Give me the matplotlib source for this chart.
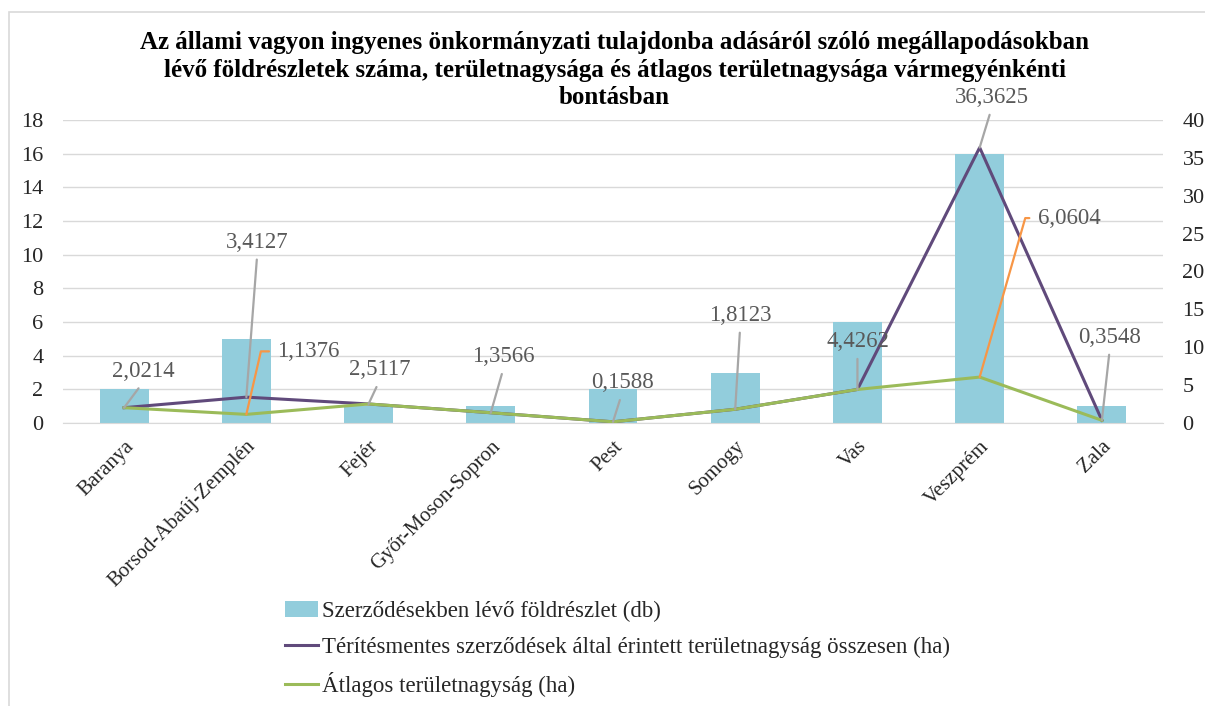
import numpy as np
import matplotlib.pyplot as plt
from matplotlib.patches import Rectangle

plt.rcParams['font.family'] = ['Liberation Serif', 'DejaVu Serif']

# Adatok
megyek = ["Baranya", "Borsod-Abaúj-Zemplén", "Fejér", "Győr-Moson-Sopron", "Pest",
          "Somogy", "Vas", "Veszprém", "Zala"]
foldreszlet_db = [2, 5, 1, 1, 2, 3, 6, 16, 1]
terulet_osszesen = [2.0214, 3.4127, 2.5117, 1.3566, 0.1588, 1.8123, 4.4262, 36.3625, 0.3548]
atlag_terulet = [2.0214, 1.1376, 2.5117, 1.3566, 0.1588, 1.8123, 4.4262, 6.0604, 0.3548]

cim_sorok = ["Az állami vagyon ingyenes önkormányzati tulajdonba adásáról szóló megállapodásokban",
             "lévő földrészletek száma, területnagysága és átlagos területnagysága vármegyénkénti",
             "bontásban"]

# címke-eltolások (pixel)
szurke_offset = [(19, 36), (11, 155), (11, 34), (13, 56), (9, 39), (5, 94), (0, 48), (12, 50), (8, 83)]
narancs_cimkek = {1: (31, 63, 77), 7: (58, 159, 74)}

fig = plt.figure(figsize=(12.05, 7.06), dpi=100)
fig.patches.append(Rectangle((9 / 1205, -0.1), 1.2, 0.1 + (706 - 12) / 706, transform=fig.transFigure,
                             fill=False, edgecolor="#D9D9D9", linewidth=1.2))

ax = fig.add_axes([63 / 1205, 1 - 423 / 706, 1100 / 1205, 303 / 706])
ax2 = ax.twinx()

x = np.arange(len(megyek))
ax.bar(x, foldreszlet_db, width=0.4, color="#92CDDC", zorder=2,
       label="Szerződésekben lévő földrészlet (db)")
ax2.plot(x, terulet_osszesen, color="#604A7B", lw=2.2, zorder=3,
         label="Térítésmentes szerződések által érintett területnagyság összesen (ha)")
ax2.plot(x, atlag_terulet, color="#9BBB59", lw=2.2, zorder=4,
         label="Átlagos területnagyság (ha)")

ax.set_xlim(-0.5, len(megyek) - 0.5)
ax.set_ylim(0, 18)
ax.set_yticks(np.arange(0, 19, 2))
ax2.set_ylim(0, 40)
ax2.set_yticks(np.arange(0, 41, 5))
ax.grid(axis="y", color="#D9D9D9", lw=1, zorder=0)
ax.set_axisbelow(True)

for a in (ax, ax2):
    for s in a.spines.values():
        s.set_visible(False)
    a.tick_params(length=0, labelsize=16, labelcolor="#262626")
ax.spines["bottom"].set_visible(True)
ax.spines["bottom"].set_color("#D9D9D9")
ax.tick_params(axis="y", pad=14)
ax2.tick_params(axis="y", pad=14)

ax.set_xticks(x)
ax.set_xticklabels(megyek, rotation=45, ha="right", rotation_mode="anchor")
ax.tick_params(axis="x", pad=10, labelsize=15)

# adatcímkék
for i, val in enumerate(terulet_osszesen):
    dx, dy = szurke_offset[i]
    ax2.annotate(f"{val:.4f}".replace(".", ","), xy=(i, val), xytext=(dx, dy),
                 textcoords="offset pixels", ha="center", va="center",
                 fontsize=16.5, color="#595959", zorder=6,
                 arrowprops=dict(arrowstyle="-", color="#A6A6A6", lw=1.6,
                                 relpos=(0.5, 0), shrinkA=3, shrinkB=0))
for i, (dx, dy, ang) in narancs_cimkek.items():
    val = atlag_terulet[i]
    ax2.annotate(f"{val:.4f}".replace(".", ","), xy=(i, val), xytext=(dx, dy),
                 textcoords="offset pixels", ha="left", va="center",
                 fontsize=16.5, color="#595959", zorder=6,
                 arrowprops=dict(arrowstyle="-", color="#F79646", lw=1.6,
                                 connectionstyle=f"angle,angleA=0,angleB={ang},rad=0",
                                 relpos=(0, 0.5), shrinkA=4, shrinkB=0))

# cím soronként
for k, sor in enumerate(cim_sorok):
    fig.text(0.51, 1 - (42 + 28 * k) / 706, sor, ha="center", va="center",
             fontsize=18, fontweight="bold")

h1, l1 = ax.get_legend_handles_labels()
h2, l2 = ax2.get_legend_handles_labels()
fig.legend(h1 + h2, l1 + l2, loc="upper left", bbox_to_anchor=(276 / 1205, 1 - 592 / 706),
           frameon=False, fontsize=16.5, labelcolor="#262626", handlelength=1.45,
           handletextpad=0.17, labelspacing=0.62, borderaxespad=0)

fig.savefig("out.png", dpi=100)
